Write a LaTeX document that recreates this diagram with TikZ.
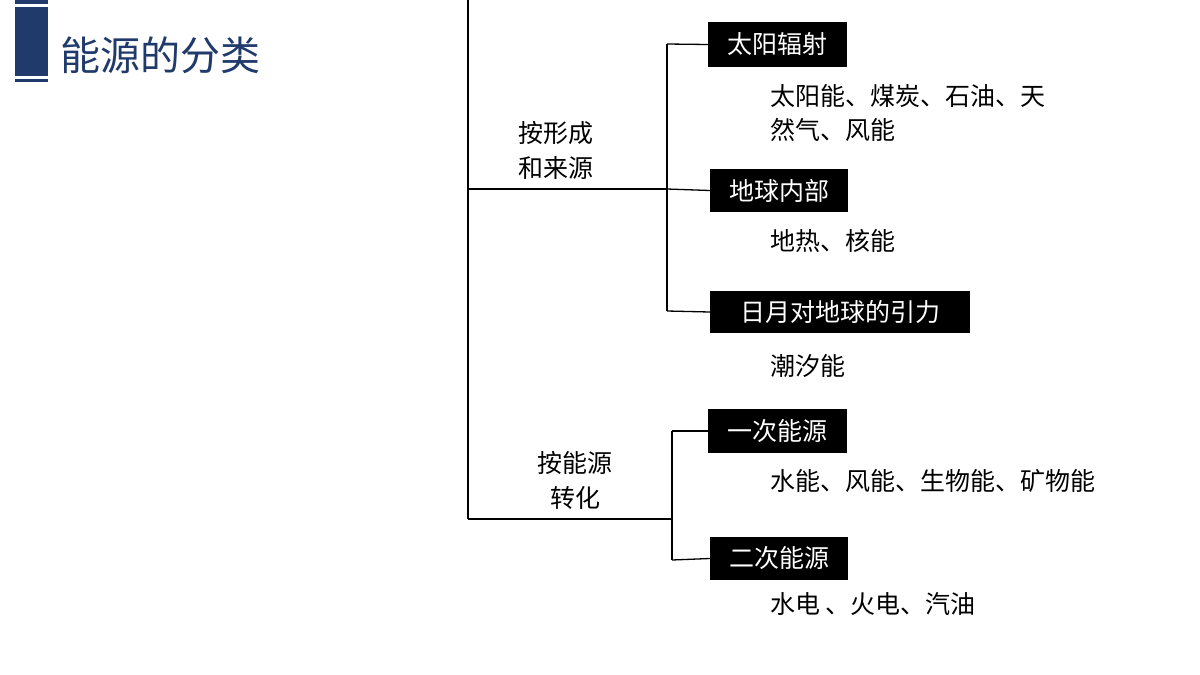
\documentclass[tikz,border=0pt]{standalone}
\usepackage{fontspec}
\setmainfont{Noto Sans CJK SC}
\definecolor{navy}{HTML}{1F3A6B}
\begin{document}
\begin{tikzpicture}[x=1pt,y=-1pt,
  ln/.style={line width=1.3pt,black},
  box/.style={fill=black,text=white,inner sep=0pt,font=\fontsize{25}{28}\selectfont},
  txt/.style={anchor=west,inner sep=0pt,font=\fontsize{25}{30}\selectfont},
  cat/.style={align=center,inner sep=0pt,font=\fontsize{25}{35}\selectfont}]
\useasboundingbox (0,0) rectangle (1200,675);
\fill[navy] (15,0) rectangle (48,4);
\fill[navy] (15,7) rectangle (48,76);
\fill[navy] (15,79) rectangle (48,82);
\node[anchor=west,inner sep=0pt,text=navy,font=\fontsize{40}{44}\selectfont] (title) at (60,55) {能源的分类};
% boxes
\node[box,minimum width=139pt,minimum height=45pt] (b1) at (777.5,44.5) {太阳辐射};
\node[box,minimum width=138pt,minimum height=43pt] (b2) at (779,190.5) {地球内部};
\node[box,minimum width=260pt,minimum height=42pt] (b3) at (840,312) {日月对地球的引力};
\node[box,minimum width=139pt,minimum height=44pt] (b4) at (777.5,431) {一次能源};
\node[box,minimum width=138pt,minimum height=43pt] (b5) at (779,558.5) {二次能源};
% texts
\node[txt] (t1) at (770,96) {太阳能、煤炭、石油、天};
\node[txt] (t1b) at (770,130) {然气、风能};
\node[txt] (t2) at (770,241) {地热、核能};
\node[txt] (t3) at (770,366) {潮汐能};
\node[txt] (t4) at (770,481) {水能、风能、生物能、矿物能};
\node[txt] (t5) at (770,604) {水电 、火电、汽油};
\node[cat] (c1) at (556,150) {按形成\\和来源};
\node[cat] (c2) at (575,480) {按能源\\转化};
% lines
\coordinate (top) at (468,0);
\coordinate (j1) at (468,189);
\coordinate (j2) at (468,519);
\coordinate (v1a) at (667,44);
\coordinate (v1b) at (667,189);
\coordinate (v1c) at (667,311);
\coordinate (v2a) at (672,431);
\coordinate (v2b) at (672,519);
\coordinate (v2c) at (672,560);
\draw[ln] (top) -- (j2);
\draw[ln] (j1) -- (v1b);
\draw[ln] (j2) -- (v2b);
\draw[ln] (v1a) -- (v1c);
\draw[ln] (v2a) -- (v2c);
\draw[ln] (v1a) -- (b1.west);
\draw[ln] (v1b) -- (b2.west);
\draw[ln] (v1c) -- (b3.west);
\draw[ln] (v2a) -- (b4.west);
\draw[ln] (v2c) -- (b5.west);
\end{tikzpicture}
\end{document}
